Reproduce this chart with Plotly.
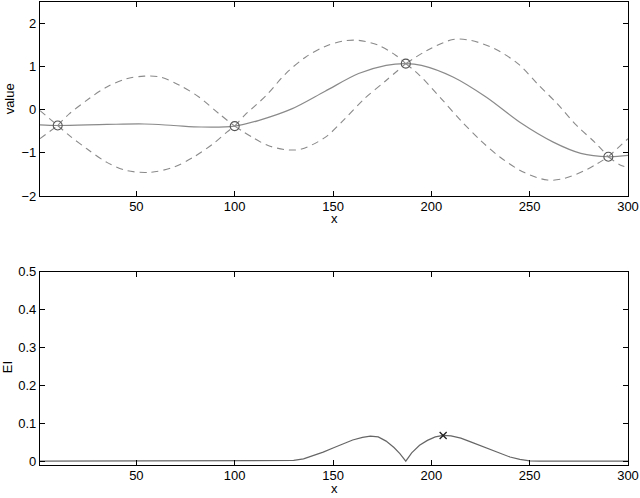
import plotly.graph_objects as go
from plotly.subplots import make_subplots

# ---- Top panel data: GP posterior mean, upper and lower confidence curves ----
mean_x = [1, 10, 35, 54, 69, 83, 100, 112, 129, 146, 163, 177, 187, 195, 211, 228, 245, 262, 276, 290, 300]
mean_y = [-0.35, -0.365, -0.34, -0.33, -0.365, -0.40, -0.38, -0.25, 0.02, 0.43, 0.84, 1.03, 1.07, 1.03, 0.76, 0.29, -0.29, -0.75, -1.01, -1.09, -1.06]

upper_x = [1, 10, 16, 26, 35, 45, 54, 62, 72, 82, 92, 100, 105, 116, 126, 136, 146, 156, 163, 173, 182, 187,
           198, 211, 220, 232, 244, 254, 264, 274, 283, 290, 300]
upper_y = [-0.02, -0.365, -0.09, 0.26, 0.53, 0.72, 0.78, 0.76, 0.57, 0.29, -0.09, -0.38, -0.13, 0.33, 0.84, 1.22, 1.47, 1.60, 1.61, 1.50, 1.26, 1.07,
           1.38, 1.63, 1.61, 1.42, 1.07, 0.60, 0.14, -0.37, -0.75, -1.09, -0.67]

lower_x = [1, 10, 16, 25, 35, 45, 57, 69, 79, 89, 96, 100, 109, 117, 127, 134, 146, 156, 166, 177, 187,
           194, 205, 215, 225, 235, 247, 259, 267, 278, 284, 290, 296, 300]
lower_y = [-0.67, -0.365, -0.60, -0.91, -1.22, -1.41, -1.45, -1.33, -1.10, -0.79, -0.52, -0.38, -0.64, -0.83, -0.93, -0.91, -0.64, -0.21, 0.26, 0.68, 1.07,
           0.80, 0.26, -0.25, -0.71, -1.10, -1.45, -1.63, -1.60, -1.41, -1.26, -1.09, -1.28, -1.34]

obs_x = [10, 100, 187, 290]
obs_y = [-0.365, -0.38, 1.07, -1.09]

# ---- Bottom panel data: expected improvement ----
ei_x = [1, 50, 100, 120, 125, 130, 135, 140, 145, 150, 155, 160, 165, 169, 173, 177, 181, 184, 187,
        190, 194, 198, 202, 206, 210, 215, 220, 225, 230, 235, 240, 245, 250, 255, 300]
ei_y = [0, 0.0005, 0, 0, 0.0005, 0.002, 0.006, 0.014, 0.024, 0.035, 0.046, 0.056, 0.063, 0.066, 0.064, 0.053, 0.036, 0.020, 0.0,
        0.022, 0.042, 0.055, 0.064, 0.068, 0.067, 0.061, 0.051, 0.041, 0.030, 0.020, 0.011, 0.005, 0.001, 0, 0]
best_x = [206]
best_y = [0.068]

x_ticks = [50, 100, 150, 200, 250, 300]
top_ticks = [-2, -1, 0, 1, 2]
bot_ticks = [0, 0.1, 0.2, 0.3, 0.4, 0.5]
bot_labels = ["0", "0.1", "0.2", "0.3", "0.4", "0.5"]

FONT = "Liberation Sans, Arial, sans-serif"
gray = "#8a8a8a"

fig = make_subplots(rows=2, cols=1)

# confidence curves: drawn piecewise between observations (kinks at observed points)
bounds = [1] + obs_x + [300]
for cx, cy in ((upper_x, upper_y), (lower_x, lower_y)):
    for lo, hi in zip(bounds[:-1], bounds[1:]):
        sx = [a for a in cx if lo <= a <= hi]
        sy = [b for a, b in zip(cx, cy) if lo <= a <= hi]
        fig.add_trace(go.Scatter(x=sx, y=sy, mode="lines",
                                 line=dict(color=gray, width=1.1, dash="7px,5px", shape="spline", smoothing=0.9),
                                 showlegend=False, hoverinfo="skip"), row=1, col=1)

fig.add_trace(go.Scatter(x=mean_x, y=mean_y, mode="lines",
                         line=dict(color=gray, width=1.2, shape="spline", smoothing=0.9), showlegend=False), row=1, col=1)
fig.add_trace(go.Scatter(x=obs_x, y=obs_y, mode="markers",
                         marker=dict(symbol="circle-open", size=9, color="#555555", line=dict(width=1.1)),
                         showlegend=False), row=1, col=1)

fig.add_trace(go.Scatter(x=ei_x, y=ei_y, mode="lines", line=dict(color="#666666", width=1.2), showlegend=False), row=2, col=1)
fig.add_trace(go.Scatter(x=best_x, y=best_y, mode="markers",
                         marker=dict(symbol="x-thin-open", size=7, color="#222222", line=dict(width=1.3)),
                         showlegend=False), row=2, col=1)

axis_common = dict(showline=True, linecolor="black", linewidth=1.3, mirror="ticks", ticks="inside", ticklen=5,
                   tickcolor="black", tickwidth=1, showgrid=False, zeroline=False, automargin=False,
                   tickfont=dict(family=FONT, size=13, color="black"))

fig.update_xaxes(range=[1, 300], tickvals=x_ticks, domain=[0, 1], ticklabelstandoff=-2, **axis_common)
fig.update_yaxes(**axis_common)
fig.update_yaxes(domain=[0.581, 1.0], range=[-2, 2.5], tickvals=top_ticks, row=1, col=1)
fig.update_yaxes(domain=[0.0, 0.4175], range=[-0.01, 0.5], tickvals=bot_ticks, ticktext=bot_labels, row=2, col=1)

ann_font = dict(family=FONT, size=13, color="black")
fig.add_annotation(text="value", xref="paper", yref="paper", x=-0.0525, y=0.79, textangle=-90,
                   showarrow=False, xanchor="center", yanchor="middle", font=ann_font)
fig.add_annotation(text="EI", xref="paper", yref="paper", x=-0.0555, y=0.212, textangle=-90,
                   showarrow=False, xanchor="center", yanchor="middle", font=ann_font)
fig.add_annotation(text="x", xref="paper", yref="paper", x=0.5, y=0.532,
                   showarrow=False, xanchor="center", yanchor="middle", font=ann_font)
fig.add_annotation(text="x", xref="paper", yref="paper", x=0.5, y=-0.05,
                   showarrow=False, xanchor="center", yanchor="middle", font=ann_font)

fig.update_layout(width=640, height=498, margin=dict(l=40, r=12, t=2, b=33, autoexpand=False),
                  paper_bgcolor="white", plot_bgcolor="white",
                  font=dict(family=FONT, size=13, color="black"))

fig.write_html("out.html", config={"displayModeBar": False},
               post_script="document.body.style.margin='0px';")
